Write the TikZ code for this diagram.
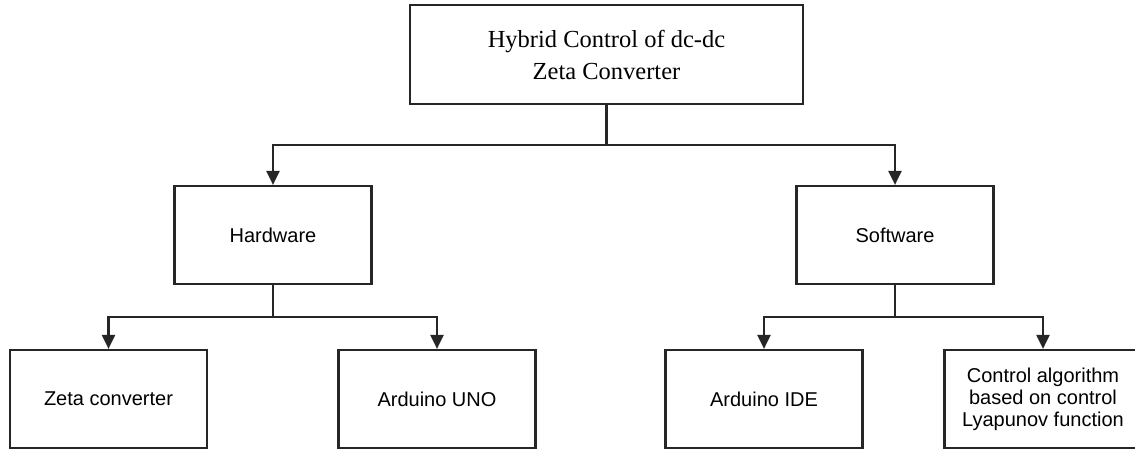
\documentclass[tikz,border=0pt]{standalone}
\usepackage{fontspec}
\setmainfont{Liberation Serif}
\setsansfont{Liberation Sans}
\usetikzlibrary{arrows.meta}
\begin{document}
\begin{tikzpicture}[x=1pt,y=1pt,
  box/.style={draw=black!85, line width=2.2pt, fill=white, minimum width=197pt, minimum height=98pt, inner sep=2pt, align=center, font=\sffamily\fontsize{20}{22}\selectfont},
  topbox/.style={box, minimum width=393pt, minimum height=99pt, font=\rmfamily\fontsize{24.5}{32}\selectfont},
  conn/.style={draw=black!85, line width=2.2pt},
  arr/.style={conn, -{Triangle[length=14pt,width=13pt]}}]
\useasboundingbox (0,0) rectangle (1135,450);
\fill[white] (0,0) rectangle (1135,450);
\node[topbox] (top) at (606.5,395.5) {Hybrid Control of dc-dc\\Zeta Converter};
\node[box] (hw) at (273,215) {Hardware};
\node[box] (sw) at (895,215) {Software};
\node[box] (zeta) at (108.5,51) {Zeta converter};
\node[box] (uno) at (437,51) {Arduino UNO};
\node[box] (ide) at (764,51) {Arduino IDE};
\node[box] (ctrl) at (1043,51) {Control algorithm\\based on control\\Lyapunov function};
\coordinate (j1) at (606.5,305);
\coordinate (j2) at (273,133);
\coordinate (j3) at (895,133);
\draw[conn] (top.south) -- (j1);
\draw[arr] (j1) -| (hw.north);
\draw[arr] (j1) -| (sw.north);
\draw[conn] (hw.south) -- (j2);
\draw[arr] (j2) -| (zeta.north);
\draw[arr] (j2) -| (uno.north);
\draw[conn] (sw.south) -- (j3);
\draw[arr] (j3) -| (ide.north);
\draw[arr] (j3) -| (ctrl.north);
\end{tikzpicture}
\end{document}
